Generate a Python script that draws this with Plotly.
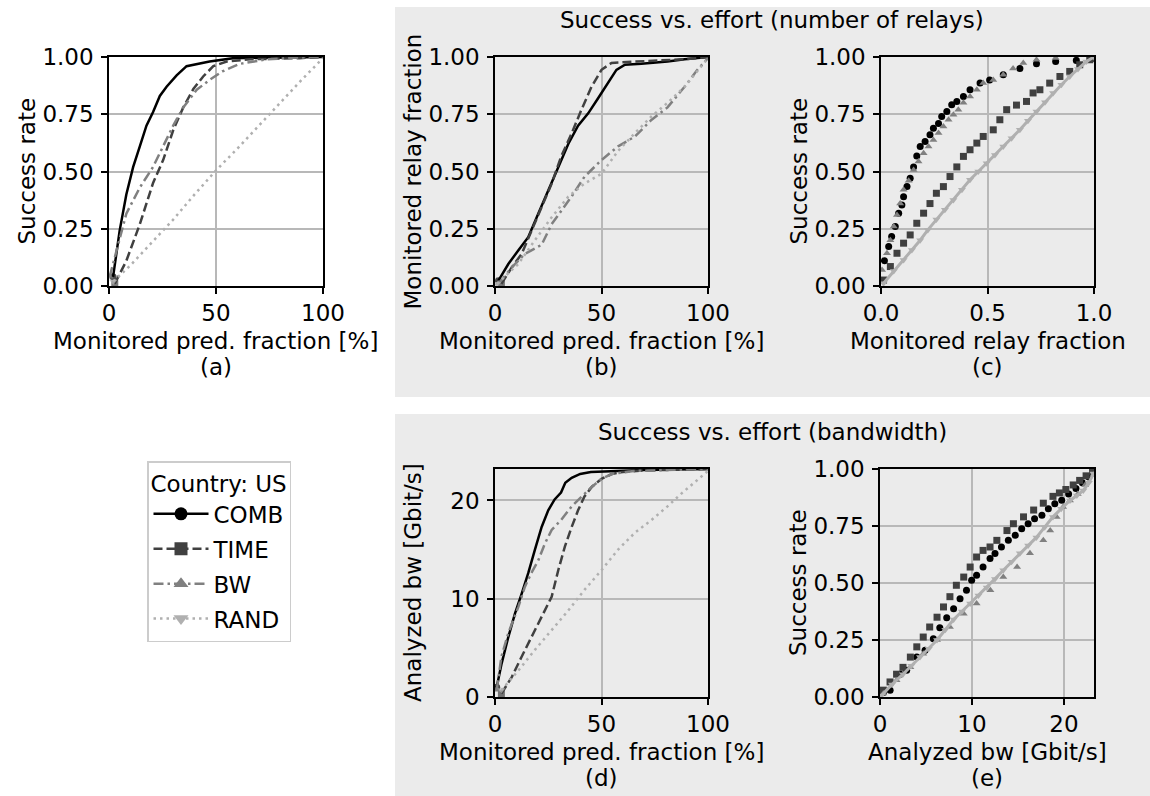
import plotly.graph_objects as go

W, H = 1150, 796

SERIES = ["COMB", "TIME", "BW", "RAND"]
COLORS = {"COMB": "#000000", "TIME": "#404040", "BW": "#808080", "RAND": "#b0b0b0"}
DASHES = {"COMB": "solid", "TIME": "9px,4px", "BW": "10px,4px,2.5px,4px", "RAND": "2.5px,4px"}
SYMBOLS = {"COMB": "circle", "TIME": "square", "BW": "triangle-up", "RAND": "triangle-down"}

# ---- (a) success rate vs monitored pred. fraction [%]
a_comb_x = [1.9, 5, 8.1, 11.3, 14.4, 17.5, 20.6, 23.75, 26.9, 31.6, 36.25, 41, 47, 58, 89, 100]
a_comb_y = [0.04, 0.243, 0.40, 0.52, 0.61, 0.70, 0.76, 0.83, 0.87, 0.92, 0.96, 0.97, 0.98, 0.995, 1.0, 1.0]
a_time_x = [2.7, 8.1, 14.4, 20.6, 25.3, 30, 34.7, 39.4, 44, 48.75, 55, 66, 89, 100]
a_time_y = [0.01, 0.11, 0.27, 0.45, 0.55, 0.68, 0.78, 0.86, 0.915, 0.96, 0.98, 0.99, 0.995, 1.0]
a_bw_x = [0.3, 3.4, 8.1, 14.4, 20.6, 25.3, 30, 34.7, 41, 47, 53, 61, 74, 89, 100]
a_bw_y = [0.04, 0.155, 0.316, 0.43, 0.52, 0.61, 0.70, 0.78, 0.857, 0.90, 0.937, 0.97, 0.99, 0.998, 1.0]
a_rand_x = [2, 10, 20, 30, 40, 50, 60, 70, 80, 90, 100]
a_rand_y = [0.02, 0.09, 0.19, 0.29, 0.40, 0.505, 0.60, 0.70, 0.80, 0.90, 0.995]

# ---- (b) monitored relay fraction vs monitored pred. fraction [%]
b_comb_x = [1.6, 6.25, 10.9, 15.6, 20.3, 25, 29.7, 34.4, 39, 43.75, 48.4, 53, 57, 61, 68.75, 81, 89, 100]
b_comb_y = [0.023, 0.096, 0.155, 0.213, 0.316, 0.418, 0.52, 0.62, 0.70, 0.754, 0.82, 0.886, 0.944, 0.966, 0.97, 0.98, 0.99, 1.0]
b_time_x = [3, 7.8, 12.5, 17, 21.9, 26.6, 31, 36, 40.6, 45.3, 50, 54.7, 65.6, 89, 100]
b_time_y = [0.01, 0.08, 0.14, 0.24, 0.345, 0.447, 0.564, 0.667, 0.77, 0.87, 0.944, 0.974, 0.98, 0.99, 1.0]
b_bw_x = [1.6, 7.8, 14, 21.9, 26.6, 35.9, 42, 50, 57.8, 65.6, 73.4, 81, 89, 95, 100]
b_bw_y = [0.01, 0.08, 0.14, 0.18, 0.27, 0.39, 0.477, 0.55, 0.61, 0.652, 0.725, 0.78, 0.87, 0.944, 0.995]
b_rand_x = [1, 10.9, 18.75, 26.6, 34.4, 42, 50, 57.8, 65.6, 73.4, 81, 89, 100]
b_rand_y = [0.01, 0.096, 0.20, 0.30, 0.39, 0.447, 0.49, 0.59, 0.667, 0.74, 0.80, 0.87, 0.995]

# ---- (c) success rate vs monitored relay fraction
c_comb_x = [0.016, 0.036, 0.05, 0.067, 0.083, 0.098, 0.106, 0.122, 0.137, 0.153, 0.168, 0.184, 0.207, 0.23,
            0.246, 0.27, 0.285, 0.309, 0.332, 0.356, 0.387, 0.418, 0.465, 0.51, 0.574, 0.652, 0.73, 0.82, 0.917, 0.995]
c_comb_y = [0.11, 0.172, 0.216, 0.26, 0.318, 0.354, 0.39, 0.434, 0.47, 0.52, 0.568, 0.609, 0.631, 0.66,
            0.689, 0.71, 0.74, 0.762, 0.791, 0.806, 0.828, 0.857, 0.886, 0.90, 0.923, 0.95, 0.97, 0.98, 0.985, 0.995]
c_time_x = [0.012, 0.044, 0.075, 0.106, 0.137, 0.168, 0.2, 0.23, 0.26, 0.293, 0.324, 0.356, 0.387, 0.418, 0.45,
            0.48, 0.527, 0.558, 0.59, 0.636, 0.683, 0.714, 0.746, 0.792, 0.84, 0.886, 0.933, 0.98, 1.0]
c_time_y = [0.026, 0.085, 0.143, 0.187, 0.223, 0.274, 0.318, 0.36, 0.405, 0.434, 0.478, 0.52, 0.566, 0.595, 0.624,
            0.653, 0.682, 0.726, 0.77, 0.79, 0.806, 0.843, 0.857, 0.886, 0.915, 0.937, 0.966, 0.988, 0.995]
c_bw_x = [0.005, 0.028, 0.044, 0.06, 0.075, 0.09, 0.106, 0.13, 0.153, 0.176, 0.2, 0.223, 0.246, 0.27, 0.293,
          0.317, 0.34, 0.363, 0.387, 0.418, 0.45, 0.48, 0.527, 0.574, 0.62, 0.668, 0.73, 0.82, 1.0]
c_bw_y = [0.07, 0.143, 0.2, 0.26, 0.31, 0.36, 0.42, 0.46, 0.507, 0.544, 0.58, 0.609, 0.638, 0.668, 0.697,
          0.726, 0.748, 0.77, 0.80, 0.828, 0.857, 0.886, 0.90, 0.923, 0.95, 0.974, 0.988, 0.996, 1.0]
c_rand_x = [0.012, 0.06, 0.106, 0.145, 0.184, 0.22, 0.26, 0.30, 0.34, 0.38, 0.418, 0.457, 0.496, 0.535, 0.574,
            0.613, 0.652, 0.69, 0.73, 0.77, 0.808, 0.847, 0.886, 0.925, 0.964, 1.0]
c_rand_y = [0.012, 0.065, 0.114, 0.157, 0.20, 0.245, 0.29, 0.333, 0.376, 0.42, 0.464, 0.50, 0.536, 0.572, 0.609,
            0.645, 0.682, 0.722, 0.762, 0.802, 0.843, 0.879, 0.915, 0.948, 0.98, 1.0]

# ---- (d) analyzed bw [Gbit/s] vs monitored pred. fraction [%]
d_comb_x = [0.8, 3.1, 6.25, 9.4, 12.5, 15.6, 18.75, 21.9, 25, 28, 31, 33, 36, 40, 45, 55, 70, 100]
d_comb_y = [1.0, 3.4, 6.1, 8.5, 10.5, 12.6, 15.0, 17.3, 19.0, 20.1, 20.8, 21.8, 22.3, 22.7, 22.9, 23.0, 23.1, 23.2]
d_time_x = [3, 7.8, 12.5, 17, 21.9, 26.6, 29.7, 32.8, 36, 39, 42, 45.5, 50, 55, 60, 70, 100]
d_time_y = [0.34, 2.0, 4.1, 6.1, 8.2, 10.2, 12.9, 15.3, 17.3, 19.0, 20.4, 21.4, 22.2, 22.7, 22.9, 23.05, 23.2]
d_bw_x = [0.8, 3, 6.25, 11, 14, 17, 20.3, 23.4, 26.6, 31, 36, 40.6, 45, 50, 55, 65, 100]
d_bw_y = [0.7, 4.1, 6.5, 9.2, 11.2, 12.6, 13.9, 15.6, 17.0, 18.0, 19.4, 20.4, 21.3, 22.2, 22.7, 23.0, 23.2]
d_rand_x = [3, 11, 18.75, 26.6, 34.4, 42, 50, 57.8, 65.6, 73.4, 81, 87.5, 100]
d_rand_y = [0.7, 2.7, 4.8, 6.8, 8.8, 10.9, 12.9, 15.0, 16.7, 18.0, 19.4, 20.7, 23.0]

# ---- (e) success rate vs analyzed bw [Gbit/s]
e_comb_x = [0.36, 1.1, 2.2, 2.9, 4.0, 4.9, 5.8, 6.5, 7.25, 8.0, 8.7, 9.4, 9.96, 10.5, 11.2, 11.96, 12.5, 13.2,
            13.95, 14.7, 15.4, 16.1, 16.8, 17.6, 18.3, 19.0, 19.75, 20.5, 21.3, 22.0, 22.7, 23.2]
e_comb_y = [0.02, 0.03, 0.10, 0.117, 0.175, 0.205, 0.256, 0.304, 0.348, 0.387, 0.431, 0.468, 0.512, 0.534, 0.57,
            0.607, 0.629, 0.658, 0.687, 0.709, 0.738, 0.76, 0.782, 0.797, 0.826, 0.848, 0.863, 0.89, 0.915, 0.94,
            0.965, 0.99]
e_time_x = [0.36, 1.09, 1.8, 2.5, 3.3, 4.0, 4.7, 5.4, 6.2, 6.9, 7.6, 8.3, 9.1, 9.8, 10.5, 11.2, 11.96, 12.7, 13.8,
            14.5, 15.6, 16.7, 17.75, 18.8, 19.5, 20.2, 21.0, 21.7, 22.4, 23.1]
e_time_y = [0.03, 0.066, 0.10, 0.13, 0.175, 0.22, 0.263, 0.307, 0.35, 0.395, 0.44, 0.49, 0.526, 0.57, 0.614, 0.643,
            0.658, 0.687, 0.73, 0.76, 0.79, 0.82, 0.85, 0.88, 0.895, 0.91, 0.93, 0.95, 0.97, 0.99]
e_bw_x = [0.36, 1.8, 3.3, 4.7, 6.2, 7.6, 9.1, 10.5, 12.0, 13.4, 14.9, 16.3, 17.75, 18.5, 19.2, 19.9, 20.65, 21.5,
          22.3, 23.2]
e_bw_y = [0.015, 0.073, 0.13, 0.19, 0.25, 0.307, 0.365, 0.41, 0.468, 0.526, 0.57, 0.63, 0.687, 0.73, 0.79, 0.833,
          0.862, 0.89, 0.93, 0.975]
e_rand_x = [0.18, 1.3, 2.5, 3.4, 4.35, 5.3, 6.2, 7.1, 8.0, 8.9, 9.8, 10.7, 11.6, 12.5, 13.4, 14.3, 15.2, 16.1,
            17.0, 17.9, 18.8, 19.7, 20.65, 21.4, 22.1, 22.7, 23.2]
e_rand_y = [0.007, 0.055, 0.10, 0.137, 0.175, 0.212, 0.25, 0.295, 0.34, 0.375, 0.41, 0.445, 0.48, 0.518, 0.556,
            0.593, 0.63, 0.665, 0.70, 0.745, 0.79, 0.826, 0.862, 0.884, 0.906, 0.94, 0.98]

PANELS = {
    "a": {"COMB": (a_comb_x, a_comb_y), "TIME": (a_time_x, a_time_y), "BW": (a_bw_x, a_bw_y), "RAND": (a_rand_x, a_rand_y)},
    "b": {"COMB": (b_comb_x, b_comb_y), "TIME": (b_time_x, b_time_y), "BW": (b_bw_x, b_bw_y), "RAND": (b_rand_x, b_rand_y)},
    "c": {"COMB": (c_comb_x, c_comb_y), "TIME": (c_time_x, c_time_y), "BW": (c_bw_x, c_bw_y), "RAND": (c_rand_x, c_rand_y)},
    "d": {"COMB": (d_comb_x, d_comb_y), "TIME": (d_time_x, d_time_y), "BW": (d_bw_x, d_bw_y), "RAND": (d_rand_x, d_rand_y)},
    "e": {"COMB": (e_comb_x, e_comb_y), "TIME": (e_time_x, e_time_y), "BW": (e_bw_x, e_bw_y), "RAND": (e_rand_x, e_rand_y)},
}
LINE_PANELS = ["a", "b", "d"]
MARKER_PANELS = ["c", "e"]

X_LABELS = {"a": "Monitored pred. fraction [%]", "b": "Monitored pred. fraction [%]", "c": "Monitored relay fraction",
            "d": "Monitored pred. fraction [%]", "e": "Analyzed bw [Gbit/s]"}
Y_LABELS = {"a": "Success rate", "b": "Monitored relay fraction", "c": "Success rate",
            "d": "Analyzed bw [Gbit/s]", "e": "Success rate"}
X_TICKS = {"a": [0, 50, 100], "b": [0, 50, 100], "c": [0.0, 0.5, 1.0], "d": [0, 50, 100], "e": [0, 10, 20]}
Y_TICKS = {"a": [0, 0.25, 0.5, 0.75, 1.0], "b": [0, 0.25, 0.5, 0.75, 1.0], "c": [0, 0.25, 0.5, 0.75, 1.0],
           "d": [0, 10, 20], "e": [0, 0.25, 0.5, 0.75, 1.0]}
X_RANGE = {"a": [0, 100], "b": [0, 100], "c": [0, 1], "d": [0, 100], "e": [0, 23.26]}
Y_RANGE = {"a": [0, 1], "b": [0, 1], "c": [0, 1], "d": [0, 23.2], "e": [0, 1]}
X_FMT = {"a": "d", "b": "d", "c": ".1f", "d": "d", "e": "d"}
Y_FMT = {"a": ".2f", "b": ".2f", "c": ".2f", "d": "d", "e": ".2f"}
LEGEND_TITLE = "Country: US"
TITLE_TOP = "Success vs. effort (number of relays)"
TITLE_BOTTOM = "Success vs. effort (bandwidth)"

# layout boxes in pixels (left, right, top, bottom)
BOX = {"a": (109, 323, 57, 286), "b": (495, 708, 57, 286), "c": (881, 1094, 57, 286),
       "d": (495, 708, 469, 697), "e": (880, 1094, 469, 697)}
FONT = "DejaVu Sans"
FS = 23

fig = go.Figure()
axis_ids = {"a": "", "b": "2", "c": "3", "d": "4", "e": "5"}

for p, series in PANELS.items():
    ax = axis_ids[p]
    for s in SERIES:
        xs, ys = series[s]
        if p in LINE_PANELS:
            fig.add_trace(go.Scatter(
                x=xs, y=ys, mode="lines+markers", xaxis="x" + ax, yaxis="y" + ax, showlegend=False,
                line=dict(color=COLORS[s], width=2.5, dash=DASHES[s]),
                marker=dict(symbol=SYMBOLS[s], color=COLORS[s], size=[7] + [0] * (len(xs) - 1), line=dict(width=0)),
            ))
        else:
            mode = "lines+markers" if s == "RAND" else "markers"
            fig.add_trace(go.Scatter(
                x=xs, y=ys, mode=mode, xaxis="x" + ax, yaxis="y" + ax, showlegend=False,
                line=dict(color=COLORS[s], width=3),
                marker=dict(symbol=SYMBOLS[s], color=COLORS[s], size=7, line=dict(width=0)),
            ))

# legend entries
for s in SERIES:
    fig.add_trace(go.Scatter(
        x=[None], y=[None], mode="lines+markers", name=s, xaxis="x", yaxis="y", legendgroup=s,
        line=dict(color=COLORS[s], width=2.5, dash=DASHES[s]),
        marker=dict(symbol=SYMBOLS[s], color=COLORS[s], size=13, line=dict(width=0)),
    ))

layout = dict(
    width=W, height=H, margin=dict(l=0, r=0, t=0, b=0, pad=0, autoexpand=False),
    paper_bgcolor="white", plot_bgcolor="white",
    font=dict(family=FONT, size=FS, color="black"),
    showlegend=True,
    legend=dict(x=147 / W, y=1 - 461 / H, xanchor="left", yanchor="top",
                bgcolor="white", bordercolor="#cccccc", borderwidth=1.5,
                font=dict(family=FONT, size=FS, color="black"),
                title=dict(text=LEGEND_TITLE, font=dict(family=FONT, size=FS)),
                itemwidth=55, tracegroupgap=2),
)

annotations = []
for p in PANELS:
    l, r, t, b = BOX[p]
    ax = axis_ids[p]
    common = dict(showline=True, linecolor="black", linewidth=1.5, mirror=True,
                  ticks="outside", ticklen=6, tickwidth=1.5, tickcolor="black",
                  showgrid=True, gridcolor="#b8b8b8", gridwidth=1.5, zeroline=False, automargin=False,
                  tickfont=dict(family=FONT, size=FS, color="black"))
    layout["xaxis" + ax] = dict(domain=[l / W, r / W], range=X_RANGE[p], anchor="y" + ax,
                                tickvals=X_TICKS[p], tickformat=X_FMT[p], **common)
    layout["yaxis" + ax] = dict(domain=[1 - b / H, 1 - t / H], range=Y_RANGE[p], anchor="x" + ax,
                                tickvals=Y_TICKS[p], tickformat=Y_FMT[p], ticklabelstandoff=3, **common)
    cx = (l + r) / 2
    xlab_y = b + 55
    annotations.append(dict(text=X_LABELS[p], x=cx / W, y=1 - xlab_y / H, xref="paper", yref="paper",
                            showarrow=False, xanchor="center", yanchor="middle", font=dict(size=FS)))
    annotations.append(dict(text="(" + p + ")", x=cx / W, y=1 - (xlab_y + 26) / H, xref="paper", yref="paper",
                            showarrow=False, xanchor="center", yanchor="middle", font=dict(size=FS)))
    ylab_x = l - 82
    annotations.append(dict(text=Y_LABELS[p], x=ylab_x / W, y=1 - ((t + b) / 2) / H, xref="paper", yref="paper",
                            showarrow=False, xanchor="center", yanchor="middle", textangle=-90,
                            font=dict(size=FS)))

annotations.append(dict(text=TITLE_TOP, x=772 / W, y=1 - 20 / H, xref="paper", yref="paper", showarrow=False,
                        xanchor="center", yanchor="middle", font=dict(size=FS)))
annotations.append(dict(text=TITLE_BOTTOM, x=772 / W, y=1 - 432 / H, xref="paper", yref="paper", showarrow=False,
                        xanchor="center", yanchor="middle", font=dict(size=FS)))
layout["annotations"] = annotations

layout["shapes"] = [
    dict(type="rect", xref="paper", yref="paper", x0=395 / W, x1=1, y0=1 - 397 / H, y1=1 - 7 / H,
         fillcolor="#ebebeb", line=dict(width=0), layer="below"),
    dict(type="rect", xref="paper", yref="paper", x0=395 / W, x1=1, y0=0, y1=1 - 414 / H,
         fillcolor="#ebebeb", line=dict(width=0), layer="below"),
]

fig.update_layout(**layout)
fig.write_html("out.html")
